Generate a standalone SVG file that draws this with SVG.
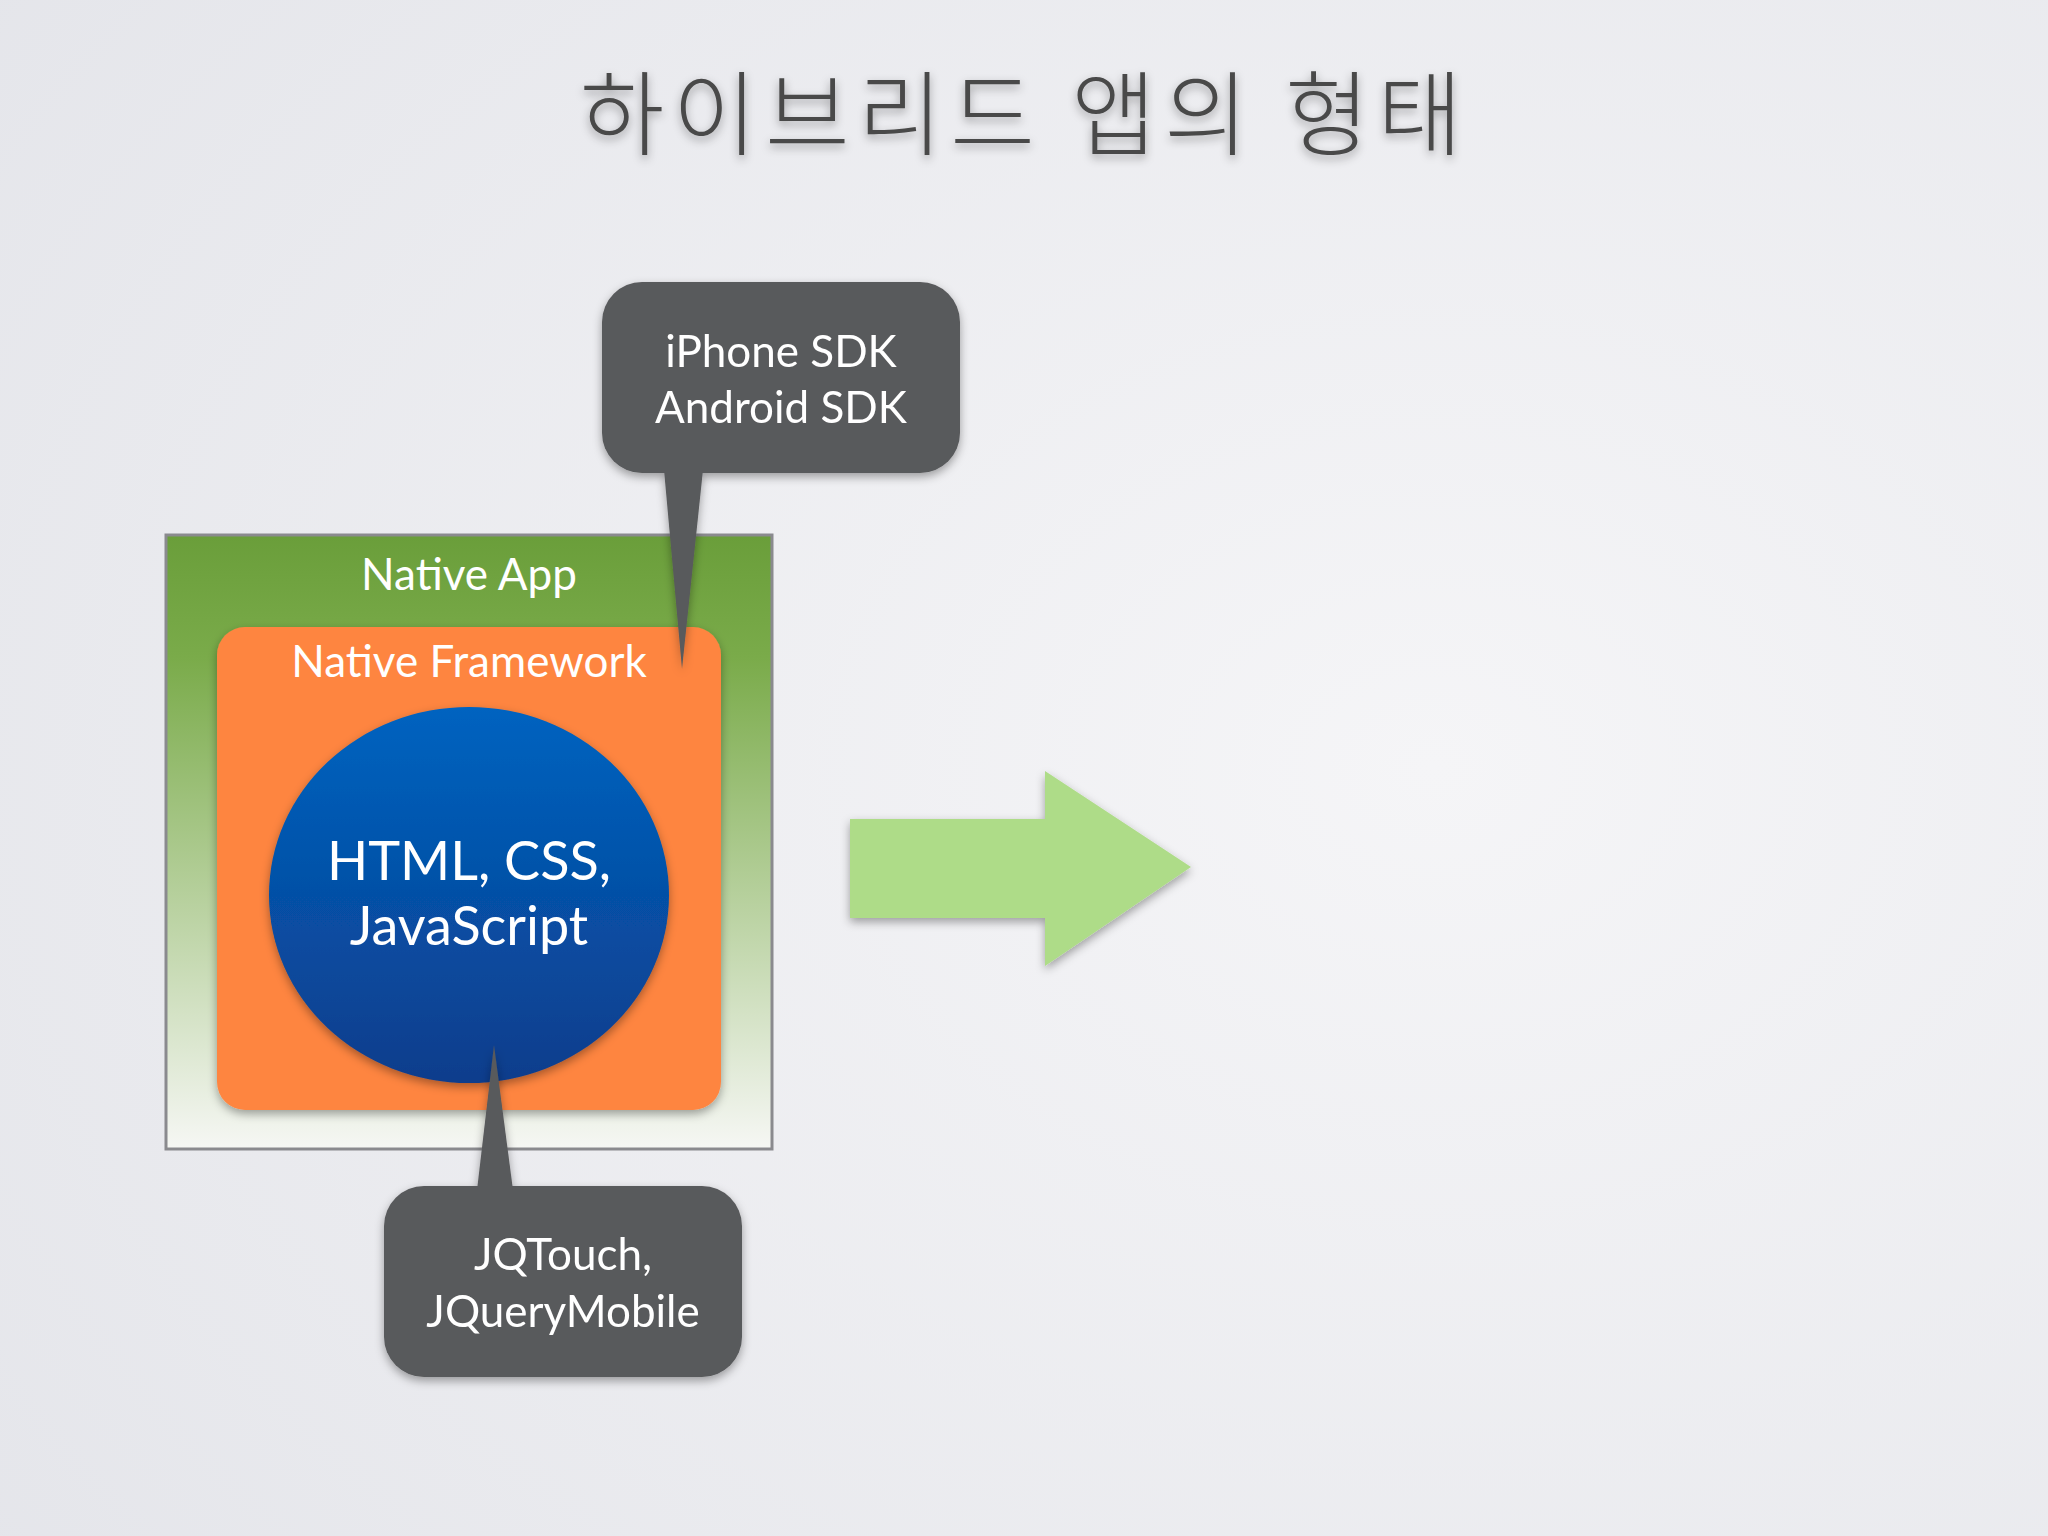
<svg xmlns="http://www.w3.org/2000/svg" width="2048" height="1536" viewBox="0 0 2048 1536">
<defs>
<radialGradient id="bg" cx="0.7" cy="0.5" r="0.9"><stop offset="0" stop-color="#f5f5f7"/><stop offset="1" stop-color="#e4e5ea"/></radialGradient>
<linearGradient id="green" x1="0" y1="0" x2="0" y2="1"><stop offset="0" stop-color="#6a9e3a"/><stop offset="0.2" stop-color="#7aab4a"/><stop offset="1" stop-color="#f6f7f4"/></linearGradient>
<linearGradient id="blue" x1="0" y1="0" x2="0" y2="1"><stop offset="0" stop-color="#0063c0"/><stop offset="1" stop-color="#0c3d8c"/></linearGradient>
<filter id="sh" x="-20%" y="-20%" width="140%" height="140%"><feDropShadow dx="0" dy="4" stdDeviation="5" flood-opacity="0.35"/></filter>
</defs>
<style>
text{font-family:"Lato","Open Sans",sans-serif;fill:#fff;text-anchor:middle}
.call{fill:#595a5c}
</style>
<rect width="2048" height="1536" fill="url(#bg)"/>
<text x="1025" y="148" style="font-family:'Noto Sans CJK KR',sans-serif;font-size:92px;font-weight:300;letter-spacing:8px;fill:#4a4a4a" filter="url(#sh)">하이브리드 앱의 형태</text>
<g id="native-app">
<rect x="166" y="535" width="606" height="614" fill="url(#green)" stroke="#8a8a8e" stroke-width="3"/>
<text x="469" y="590" font-size="44">Native App</text>
</g>
<g id="native-framework">
<rect x="217" y="627" width="504" height="483" rx="28" fill="#fe8541" filter="url(#sh)"/>
<text x="469" y="677" font-size="44">Native Framework</text>
</g>
<g id="web">
<ellipse cx="469" cy="895" rx="200" ry="188" fill="url(#blue)" filter="url(#sh)"/>
<text x="469" y="880" font-size="54">HTML, CSS,</text>
<text x="469" y="945" font-size="54">JavaScript</text>
</g>
<g id="sdk-callout" filter="url(#sh)">
<rect class="call" x="602" y="282" width="358" height="191" rx="40"/>
<polygon class="call" points="664,470 703,470 682,669"/>
<text x="781" y="367" font-size="44">iPhone SDK</text>
<text x="781" y="423" font-size="44">Android SDK</text>
</g>
<g id="jq-callout" filter="url(#sh)">
<rect class="call" x="384" y="1186" width="358" height="191" rx="40"/>
<polygon class="call" points="477,1190 513,1190 494,1045"/>
<text x="563" y="1270" font-size="44">JQTouch,</text>
<text x="563" y="1327" font-size="44">JQueryMobile</text>
</g>
<g id="connectors">
<polygon points="850,819 1045,819 1045,771 1191,867 1045,966 1045,918 850,918" fill="#aedc88" filter="url(#sh)"/>
</g>
</svg>
